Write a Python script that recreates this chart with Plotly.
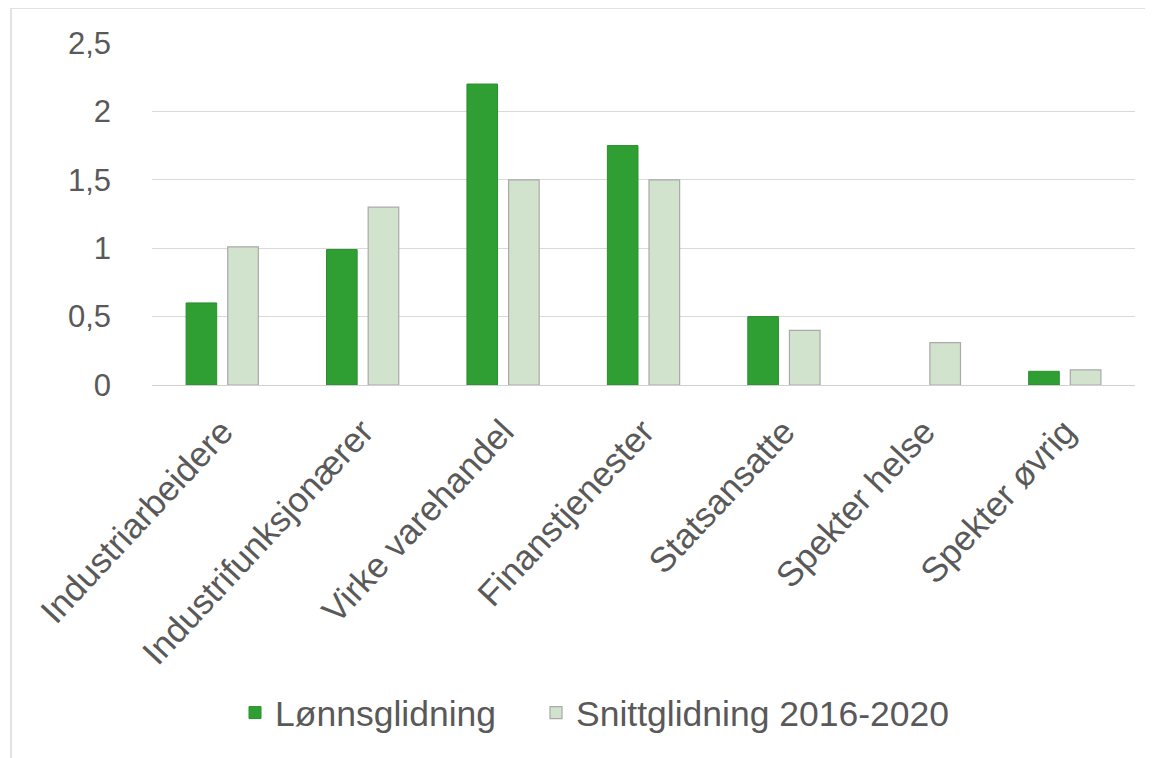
import plotly.graph_objects as go

categories = ["Industriarbeidere", "Industrifunksjonærer", "Virke varehandel",
              "Finanstjenester", "Statsansatte", "Spekter helse", "Spekter øvrig"]
lonnsglidning = [0.6, 0.99, 2.2, 1.75, 0.5, None, 0.1]
snittglidning = [1.01, 1.3, 1.5, 1.5, 0.4, 0.31, 0.11]
y_ticks = [0, 0.5, 1, 1.5, 2, 2.5]
y_tick_labels = ["0", "0,5", "1", "1,5", "2", "2,5"]

fig = go.Figure()
fig.add_trace(go.Bar(
    name="Lønnsglidning", x=categories, y=lonnsglidning, legend="legend",
    marker=dict(color="#2f9e33", line=dict(color="#2a8f2e", width=1)),
))
fig.add_trace(go.Bar(
    name="Snittglidning 2016-2020", x=categories, y=snittglidning, legend="legend2",
    marker=dict(color="#d1e3cd", line=dict(color="#a9a9a9", width=1.2)),
))

# page body adds an 8px offset, so all positions are shifted by -8
OFF = 8
W, H = 1153, 758
L, T = 152 - OFF, 43 - OFF
pw, ph = 983, 342
R = W - L - pw
B = H - T - ph

def px(x):
    return (x - OFF - L) / pw

def py(y):
    return (H - B - (y - OFF)) / ph

legend_style = dict(orientation="h", xanchor="left", y=py(713), yanchor="middle",
                    font=dict(size=35.5, color="#595959"), bgcolor="rgba(0,0,0,0)")

fig.update_layout(
    width=W, height=H,
    margin=dict(l=L, r=R, t=T, b=B),
    paper_bgcolor="white", plot_bgcolor="white",
    barmode="group", bargap=0.407, bargroupgap=0.265,
    font=dict(family="Liberation Sans, Arial, sans-serif", color="#595959", size=30),
    showlegend=True,
    legend=dict(x=px(235), **legend_style),
    legend2=dict(x=px(536), **legend_style),
    xaxis=dict(tickangle=-47, showgrid=False, showline=False, ticks="",
               ticklabelstandoff=18,
               tickfont=dict(size=35, color="#595959")),
    yaxis=dict(range=[0, 2.5], tickvals=y_ticks, ticktext=y_tick_labels,
               showgrid=True, gridcolor="#d9d9d9", gridwidth=1.2,
               zeroline=True, zerolinecolor="#d0d0d0", zerolinewidth=1.2,
               showline=False, ticks="", ticklabelstandoff=40,
               tickfont=dict(size=31, color="#595959")),
    shapes=[dict(type="rect", xref="paper", yref="paper",
                 x0=px(11), x1=px(1151), y0=py(790), y1=py(8),
                 line=dict(color="#d9d9d9", width=1.5), fillcolor="rgba(0,0,0,0)",
                 layer="below")],
)

fig.write_html("out.html")
